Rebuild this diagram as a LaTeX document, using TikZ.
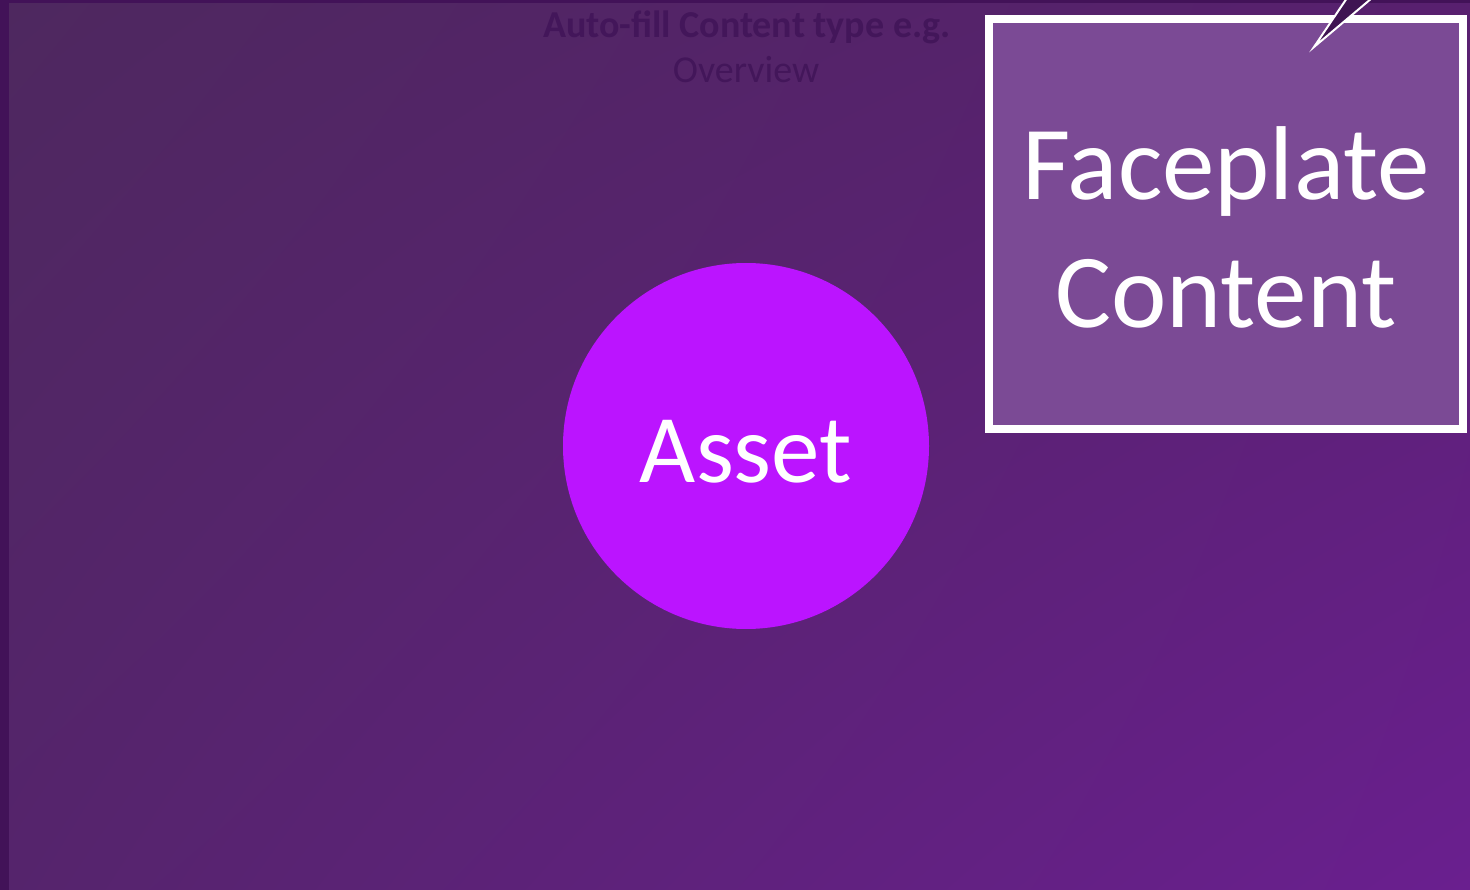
\documentclass[tikz,border=0pt]{standalone}
\usepackage{fontspec}
\setmainfont{Carlito}
\usetikzlibrary{positioning,shadings}

\definecolor{bgtopleft}{HTML}{4E285F}
\definecolor{bgtopright}{HTML}{58206F}
\definecolor{bgbotleft}{HTML}{55246C}
\definecolor{bgbotright}{HTML}{6A1F8F}
\definecolor{edgepurple}{HTML}{421258}
\definecolor{titlepurple}{HTML}{43165A}
\definecolor{assetpink}{HTML}{BB14FF}
\definecolor{plateback}{HTML}{7B4A95}
\definecolor{spikedark}{HTML}{3F1452}

\tikzset{
  bigtext/.style={text=white, font=\fontsize{105}{128}\selectfont},
  titletext/.style={text=titlepurple, font=\fontsize{38}{40}\selectfont}
}

\begin{document}
\begin{tikzpicture}[x=1pt,y=-1pt]

\def \picw {1470}
\def \pich {890}

% background
\useasboundingbox (0,0) rectangle (\picw,\pich);
\shade[upper left=bgtopleft, upper right=bgtopright, lower left=bgbotleft, lower right=bgbotright] (0,0) rectangle (\picw,\pich);
\fill[edgepurple] (0,0) rectangle (9,\pich);
\fill[edgepurple] (0,0) rectangle (\picw,3);

% heading
\node[titletext, font=\fontsize{38}{40}\selectfont\bfseries, anchor=base] (title) at (747,38) {Auto-fill Content type e.g.};
\node[titletext, anchor=base] (subtitle) at (746,83) {Overview};

% asset
\fill[assetpink] (746,446) circle [radius=183];
\node[bigtext, font=\fontsize{97}{110}\selectfont, anchor=base] (asset) at (746,482) {Asset};

% faceplate callout
\fill[plateback, draw=white, line width=8pt] (989,19) rectangle (1463,429);
\draw[white, fill=spikedark, line width=2pt] (1347,-2) -- (1314,47) -- (1372,-2);
\node[bigtext, align=center] (plate) at (1226,227) {Faceplate\\Content};

\end{tikzpicture}
\end{document}
